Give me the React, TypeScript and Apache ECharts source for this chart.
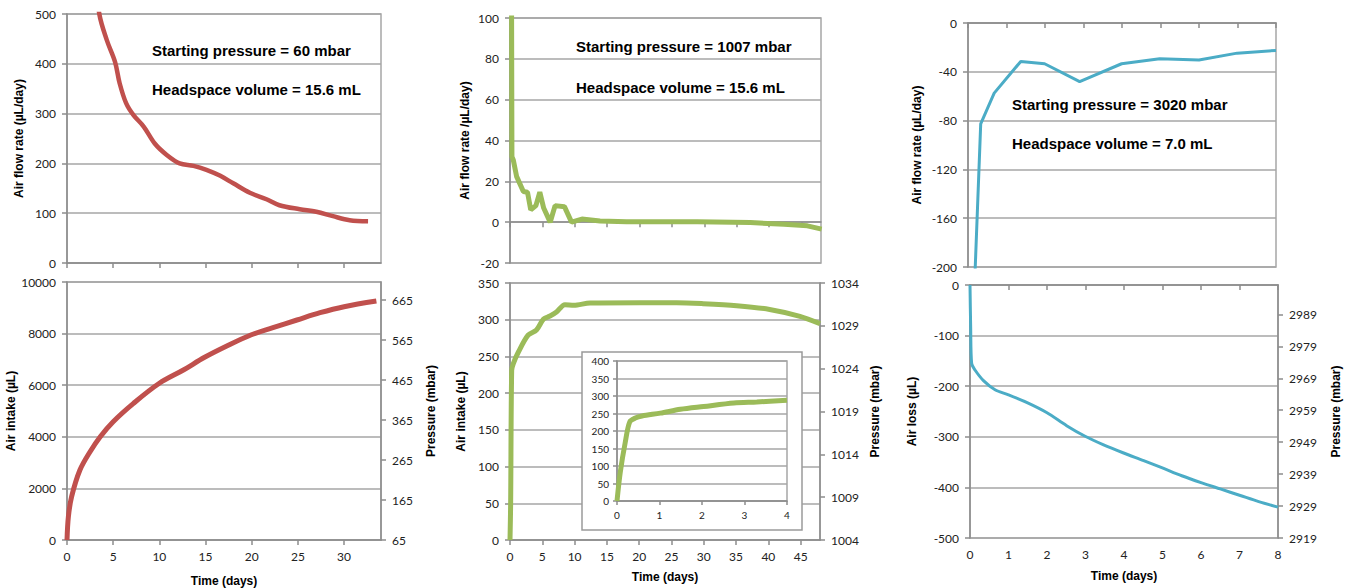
import React, { useEffect, useRef } from "react";
import * as echarts from "echarts";

// Panel A (60 mbar) — air flow rate
const aFlowDays = [3.0, 3.5, 4.3, 5.2, 5.7, 6.4, 7.2, 8.3, 9.5, 10.8, 12.2, 13.7, 15.1, 16.6, 18.0, 19.8, 21.6, 23.0, 25.2, 27.0, 28.8, 30.6, 32.6];
const aFlowVals = [590, 500, 448, 404, 361, 321, 297, 274, 240, 217, 200, 195, 187, 175, 160, 141, 128, 116, 108, 103, 94, 86, 84];
// Panel A — air intake
const aIntakeDays = [0, 0.15, 0.5, 1.4, 2.5, 3.6, 5.0, 7.2, 10.0, 12.6, 14.9, 17.3, 19.9, 22.3, 24.9, 27.4, 30.0, 33.5];
const aIntakeVals = [0, 903, 1680, 2713, 3423, 4004, 4585, 5297, 6074, 6589, 7081, 7519, 7946, 8229, 8527, 8810, 9043, 9263];

// Panel B (1007 mbar) — air flow rate
const bFlowDays = [0.2, 0.3, 0.51, 1.03, 2.06, 2.7, 3.2, 4.0, 4.6, 5.2, 6.2, 6.96, 8.4, 9.5, 11.1, 13.9, 18.0, 28.9, 37.1, 42.3, 45.9, 48.1];
const bFlowVals = [160, 32, 30.5, 22.3, 15, 14.7, 6, 8.1, 14.7, 6.9, 0, 8.1, 7.6, 0, 1.5, 0.6, 0.2, 0.2, -0.2, -1.0, -1.8, -3.4];
// Panel B — air intake
const bIntakeDays = [0, 0.1, 0.26, 0.5, 1.3, 2.8, 4.1, 5.2, 6.2, 7.2, 8.5, 9.9, 12.4, 20.1, 25.8, 29.9, 35.1, 40.2, 44.9, 48.0];
const bIntakeVals = [0, 50, 231, 240, 256, 279, 286, 301, 305, 310.5, 320.5, 319.6, 322.8, 323.2, 323.2, 321.9, 319.1, 314, 304.6, 294.6];
// Panel B inset — first 4 days
const bInsetDays = [0, 0.078, 0.196, 0.3, 0.43, 0.59, 1.02, 1.49, 2.04, 2.75, 3.29, 4.0];
const bInsetVals = [0, 83, 169, 226, 237, 243, 251, 262, 270, 280, 283, 288];

// Panel C (3020 mbar) — air flow rate
const cFlowDays = [0.14, 0.33, 0.68, 1.37, 1.99, 2.9, 3.99, 4.98, 6.0, 6.99, 8.0];
const cFlowVals = [-240, -82.7, -57.5, -31.5, -33.4, -48, -33.4, -29.3, -30.4, -24.7, -22.5];
// Panel C — air loss
const cLossDays = [0, 0.017, 0.043, 0.13, 0.35, 0.65, 1.0, 1.47, 1.99, 2.51, 2.99, 3.47, 3.99, 4.51, 4.98, 5.5, 6.02, 6.5, 7.02, 7.5, 8.0];
const cLossVals = [0, -82, -155, -168, -189, -207, -217, -232, -252, -278, -299, -316, -332, -347, -361, -377, -391, -403, -416, -428, -439];

// Tick labels
const ticksA = [0, 5, 10, 15, 20, 25, 30];
const ticksB = [0, 5, 10, 15, 20, 25, 30, 35, 40, 45];
const pressureA = [65, 165, 265, 365, 465, 565, 665];
const pressureC = [2919, 2929, 2939, 2949, 2959, 2969, 2979, 2989];

const notes = {
  a1: "Starting pressure = 60 mbar",
  a2: "Headspace volume = 15.6 mL",
  b1: "Starting pressure = 1007 mbar",
  b2: "Headspace volume = 15.6 mL",
  c1: "Starting pressure = 3020 mbar",
  c2: "Headspace volume = 7.0 mL",
};

const RED = "#c0504d";
const GREEN = "#9bbb59";
const BLUE = "#4bacc6";
const GRIDC = "#a6a6a6";
const AXISC = "#8c8c8c";
const TICKFONT = "Lato, 'Open Sans', sans-serif";
const BOLDFONT = "'Liberation Sans', Arial, sans-serif";

const zip = (xs: number[], ys: number[]) => xs.map((x, i) => [x, ys[i]]);
const plain = (v: number) => String(v);

const nameStyle = { fontFamily: BOLDFONT, fontWeight: "bold" as const, fontSize: 12, color: "#000" };

function xAx(grid: number, max: number, ticks: number[] | null, interval: number | null, showLabels: boolean, name?: string, nameGap?: number, extra: any = {}) {
  const ax: any = {
    type: "value",
    gridIndex: grid,
    min: 0,
    max,
    axisLine: { show: true, lineStyle: { color: AXISC, width: 1.5 } },
    axisTick: { show: true, length: 5, lineStyle: { color: AXISC, width: 1.5 } },
    axisLabel: { show: showLabels, fontFamily: TICKFONT, fontSize: 12, color: "#222", margin: 10, formatter: plain },
    splitLine: { show: false },
    name: name || "",
    nameLocation: "middle",
    nameGap: nameGap || 30,
    nameTextStyle: nameStyle,
  };
  if (interval) ax.interval = interval;
  if (ticks) {
    ax.axisTick.customValues = ticks;
    ax.axisLabel.customValues = ticks;
  }
  return Object.assign(ax, extra);
}

function yAx(grid: number, min: number, max: number, interval: number | null, custom: number[] | null, position: "left" | "right", name: string, nameGap: number, split: boolean, extra: any = {}) {
  const ax: any = {
    type: "value",
    gridIndex: grid,
    position,
    min,
    max,
    axisLine: { show: true, lineStyle: { color: AXISC, width: 1.5 } },
    axisTick: { show: true, length: 5, lineStyle: { color: AXISC, width: 1.5 } },
    axisLabel: { fontFamily: TICKFONT, fontSize: 12, color: "#222", margin: 11, formatter: plain },
    splitLine: { show: split, lineStyle: { color: GRIDC, width: 1.5 } },
    name,
    nameLocation: "middle",
    nameRotate: 90,
    nameGap,
    nameTextStyle: nameStyle,
  };
  if (interval) ax.interval = interval;
  if (custom) {
    ax.axisTick.customValues = custom;
    ax.axisLabel.customValues = custom;
  }
  return Object.assign(ax, extra);
}

function note(x: number, y: number, text: string) {
  return {
    type: "text",
    x,
    y,
    z: 10,
    style: {
      text,
      x: 0,
      y: 0,
      fill: "#000",
      font: `bold 15px ${BOLDFONT}`,
      align: "left",
      verticalAlign: "middle",
      textAlign: "left",
      textVerticalAlign: "middle",
    },
  };
}

export default function App() {
  const ref = useRef<HTMLDivElement>(null);
  useEffect(() => {
    if (!ref.current) return;
    const chart = echarts.init(ref.current, undefined, { renderer: "svg" });
    const gridBase = { show: true, borderColor: GRIDC, borderWidth: 1.5, backgroundColor: "transparent", containLabel: false };
    const option: any = {
      animation: false,
      backgroundColor: "#fff",
      grid: [
        { ...gridBase, left: 67, top: 14, width: 314, height: 249 },
        { ...gridBase, left: 67, top: 282, width: 314, height: 258 },
        { ...gridBase, left: 510, top: 18, width: 311, height: 245 },
        { ...gridBase, left: 510, top: 283, width: 310, height: 257 },
        { ...gridBase, left: 617, top: 361, width: 170, height: 140, z: 5 },
        { ...gridBase, left: 968, top: 23, width: 308, height: 244 },
        { ...gridBase, left: 970, top: 285, width: 308, height: 253 },
      ],
      xAxis: [
        xAx(0, 34, ticksA, null, false),
        xAx(1, 34, ticksA, null, true, "Time (days)", 35),
        xAx(2, 48, ticksB, null, false),
        xAx(3, 48, ticksB, null, true, "Time (days)", 31),
        xAx(4, 4, null, 1, true, "", 0, {
          z: 6,
          axisTick: { show: true, length: 4, lineStyle: { color: AXISC, width: 1.5 } },
          axisLabel: { fontFamily: TICKFONT, fontSize: 10, color: "#222", margin: 9, formatter: plain },
        }),
        xAx(5, 8, null, 1, false),
        xAx(6, 8, null, 1, true, "Time (days)", 32),
      ],
      yAxis: [
        yAx(0, 0, 500, 100, null, "left", "Air flow rate (µL/day)", 42, true),
        yAx(1, 0, 10000, 2000, null, "left", "Air intake (µL)", 48, true),
        yAx(1, 65, 710, null, pressureA, "right", "Pressure (mbar)", 44, false),
        yAx(2, -20, 100, 20, null, "left", "Air flow rate /µL/day)", 39, true),
        yAx(3, 0, 350, 50, null, "left", "Air intake (µL)", 43, true),
        yAx(3, 1004, 1034, 5, null, "right", "Pressure (mbar)", 49, false),
        yAx(4, 0, 400, 50, null, "left", "", 0, true, {
          z: 6,
          axisTick: { show: true, length: 4, lineStyle: { color: AXISC, width: 1.5 } },
          axisLabel: { fontFamily: TICKFONT, fontSize: 10, color: "#222", margin: 8, formatter: plain },
        }),
        yAx(5, -200, 0, 40, null, "left", "Air flow rate (µL/day)", 45, true),
        yAx(6, -500, 0, 100, null, "left", "Air loss (µL)", 52, true),
        yAx(6, 2919, 2998.2, null, pressureC, "right", "Pressure (mbar)", 52, false),
      ],
      series: [
        { type: "line", xAxisIndex: 0, yAxisIndex: 0, data: zip(aFlowDays, aFlowVals), smooth: 0.35, showSymbol: false, lineStyle: { color: RED, width: 4.5 }, clip: true },
        { type: "line", xAxisIndex: 1, yAxisIndex: 1, data: zip(aIntakeDays, aIntakeVals), smooth: 0.35, showSymbol: false, lineStyle: { color: RED, width: 5 }, clip: true },
        { type: "line", xAxisIndex: 2, yAxisIndex: 3, data: zip(bFlowDays, bFlowVals), smooth: false, showSymbol: false, lineStyle: { color: GREEN, width: 5 }, clip: true },
        { type: "line", xAxisIndex: 3, yAxisIndex: 4, data: zip(bIntakeDays, bIntakeVals), smooth: 0.3, showSymbol: false, lineStyle: { color: GREEN, width: 5 }, clip: true },
        { type: "line", xAxisIndex: 4, yAxisIndex: 6, data: zip(bInsetDays, bInsetVals), smooth: 0.3, showSymbol: false, lineStyle: { color: GREEN, width: 5 }, clip: true, z: 7 },
        { type: "line", xAxisIndex: 5, yAxisIndex: 7, data: zip(cFlowDays, cFlowVals), smooth: false, showSymbol: false, lineStyle: { color: BLUE, width: 3 }, clip: true },
        { type: "line", xAxisIndex: 6, yAxisIndex: 8, data: zip(cLossDays, cLossVals), smooth: 0.3, showSymbol: false, lineStyle: { color: BLUE, width: 3 }, clip: true },
      ],
      graphic: [
        {
          type: "rect",
          z: 3,
          shape: { x: 582, y: 352, width: 220, height: 178 },
          style: { fill: "#fff", stroke: "#9a9a9a", lineWidth: 1.5 },
        },
        note(152, 50, notes.a1),
        note(152, 89, notes.a2),
        note(576, 46, notes.b1),
        note(576, 87, notes.b2),
        note(1012, 104, notes.c1),
        note(1012, 143, notes.c2),
      ],
    };
    chart.setOption(option);
    return () => chart.dispose();
  }, []);
  return <div ref={ref} style={{ position: "absolute", left: 0, top: 0, width: 1353, height: 588 }} />;
}
